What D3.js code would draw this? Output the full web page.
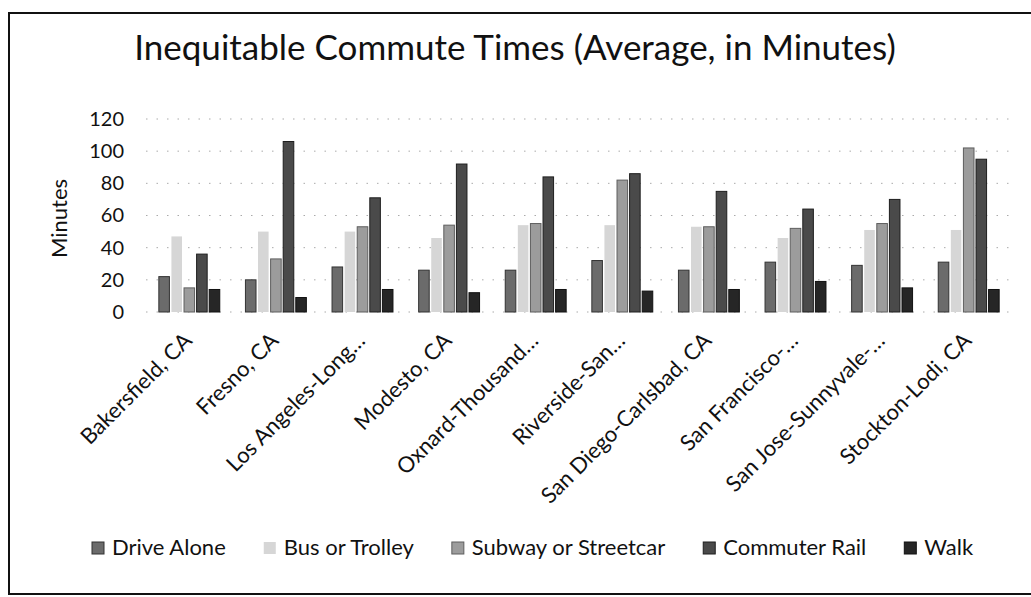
<!DOCTYPE html>
<html>
<head>
<meta charset="utf-8">
<script src="https://cdn.jsdelivr.net/npm/d3@7"></script>
<style>
  html, body { margin: 0; padding: 0; background: #fff; }
  svg { display: block; font-family: Lato, "Open Sans", sans-serif; }
</style>
</head>
<body>
<div id="chart"></div>
<script>
// commute times by metro area, minutes
const cities = [
  'Bakersfield, CA', 'Fresno, CA', 'Los Angeles-Long…', 'Modesto, CA', 'Oxnard-Thousand…',
  'Riverside-San…', 'San Diego-Carlsbad, CA', 'San Francisco-…', 'San Jose-Sunnyvale-…', 'Stockton-Lodi, CA'
];
const seriesNames = ['Drive Alone', 'Bus or Trolley', 'Subway or Streetcar', 'Commuter Rail', 'Walk'];

const driveAlone      = [22, 20, 28, 26, 26, 32, 26, 31, 29, 31];
const busTrolley      = [47, 50, 50, 46, 54, 54, 53, 46, 51, 51];
const subwayStreetcar = [15, 33, 53, 54, 55, 82, 53, 52, 55, 102];
const commuterRail    = [36, 106, 71, 92, 84, 86, 75, 64, 70, 95];
const walk            = [14, 9, 14, 12, 14, 13, 14, 19, 15, 14];

const yTicks = [0, 20, 40, 60, 80, 100, 120];

const W = 1031, H = 597;
const PLOT = { left: 146, right: 1012, top: 119, bottom: 312 };

const fills   = ['#6b6b6b', '#d6d6d6', '#9c9c9c', '#4a4a4a', '#262626'];
const strokes = ['#333', 'none', '#5e5e5e', '#1e1e1e', '#111'];

const rows = cities.map((c, i) => ({
  city: c,
  values: [driveAlone[i], busTrolley[i], subwayStreetcar[i], commuterRail[i], walk[i]]
}));

const svg = d3.select('#chart').append('svg')
  .attr('width', W)
  .attr('height', H);

// frame (right side runs off the scan)
svg.append('rect')
  .attr('x', 9).attr('y', 13)
  .attr('width', W + 20).attr('height', 581)
  .attr('fill', 'none')
  .attr('stroke', '#111')
  .attr('stroke-width', 2);

svg.append('text')
  .attr('x', 515).attr('y', 60)
  .attr('text-anchor', 'middle')
  .style('font-size', '35px')
  .attr('fill', '#111')
  .text('Inequitable Commute Times (Average, in Minutes)');

const x0 = d3.scaleBand()
  .domain(cities)
  .range([PLOT.left, PLOT.right])
  .paddingInner(0.25)
  .paddingOuter(0.125);

const x1 = d3.scaleBand()
  .domain(seriesNames)
  .range([0, x0.bandwidth()])
  .padding(0.16);

const y = d3.scaleLinear()
  .domain([0, 120])
  .range([PLOT.bottom, PLOT.top]);

// gridlines, faint like the scan
svg.append('g')
  .selectAll('line')
  .data(yTicks)
  .join('line')
  .attr('x1', PLOT.left).attr('x2', PLOT.right)
  .attr('y1', d => y(d)).attr('y2', d => y(d))
  .attr('stroke', '#aaa')
  .attr('stroke-width', 1)
  .attr('stroke-dasharray', '1.5 9');

// y axis labels
const yAxis = svg.append('g')
  .attr('transform', `translate(${PLOT.left - 22},0)`)
  .call(d3.axisLeft(y).tickValues(yTicks).tickSize(0).tickPadding(0));
yAxis.select('.domain').remove();
yAxis.selectAll('text')
  .style('font-size', '20px')
  .style('font-family', 'Lato, sans-serif')
  .attr('fill', '#111');

svg.append('text')
  .attr('transform', `translate(67,${(PLOT.top + PLOT.bottom) / 2 + 3}) rotate(-90)`)
  .attr('text-anchor', 'middle')
  .style('font-size', '22px')
  .attr('fill', '#111')
  .text('Minutes');

// bars
const groups = svg.append('g')
  .selectAll('g')
  .data(rows)
  .join('g')
  .attr('transform', d => `translate(${x0(d.city)},0)`);

groups.selectAll('rect')
  .data(d => d.values.map((v, k) => ({ name: seriesNames[k], k, v })))
  .join('rect')
  .attr('x', d => x1(d.name))
  .attr('y', d => y(d.v))
  .attr('width', x1.bandwidth())
  .attr('height', d => y(0) - y(d.v))
  .attr('fill', d => fills[d.k])
  .attr('stroke', d => strokes[d.k])
  .attr('stroke-width', 1);

// x labels, rotated
const xAxis = svg.append('g')
  .attr('transform', `translate(0,${y(0)})`)
  .call(d3.axisBottom(x0).tickSize(0).tickPadding(0));
xAxis.select('.domain').remove();
xAxis.selectAll('text')
  .style('font-size', '22px')
  .style('font-family', 'Lato, sans-serif')
  .attr('fill', '#111')
  .attr('text-anchor', 'end')
  .attr('dy', null)
  .attr('y', null)
  .attr('transform', 'translate(4,30) rotate(-45)');

// legend: laid out left to right with a fixed gap
const legend = svg.append('g').attr('transform', 'translate(92,548)');
let lx = 0;
seriesNames.forEach((name, i) => {
  const item = legend.append('g').attr('transform', `translate(${lx},0)`);
  item.append('rect')
    .attr('x', 0).attr('y', -6)
    .attr('width', 12).attr('height', 12)
    .attr('fill', fills[i])
    .attr('stroke', strokes[i]);
  const t = item.append('text')
    .attr('x', 20).attr('y', 7)
    .style('font-size', '22px')
    .attr('fill', '#111')
    .text(name);
  lx += 20 + t.node().getComputedTextLength() + 38;
});
</script>
</body>
</html>
